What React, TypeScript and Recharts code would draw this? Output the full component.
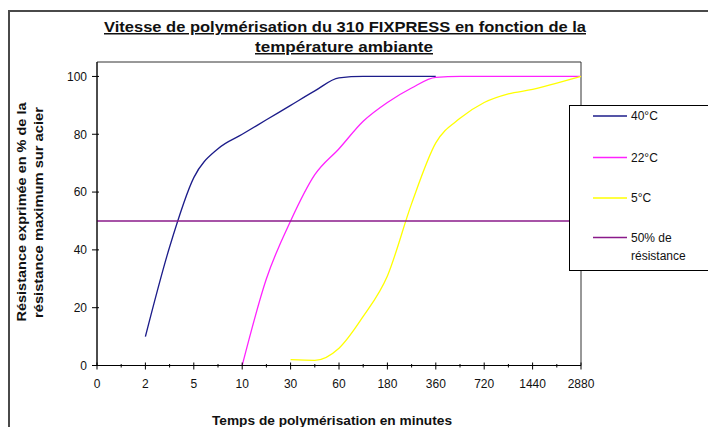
import React from 'react';
import { LineChart, Line, XAxis, YAxis, ReferenceArea } from 'recharts';

// Category labels (time in minutes), evenly spaced on the axis
const xLabels = ['0', '2', '5', '10', '30', '60', '180', '360', '720', '1440', '2880'];
const xTicks = [0, 0.5, 1, 1.5, 2, 2.5, 3, 3.5, 4, 4.5, 5, 5.5, 6, 6.5, 7, 7.5, 8, 8.5, 9, 9.5, 10];
const yTicks = [0, 20, 40, 60, 80, 100];

// 40°C
const pos40 = [1, 1.5, 2, 2.5, 3, 3.5, 4, 4.5, 5, 5.5, 6, 6.5, 7];
const val40 = [10, 41, 65, 75, 80, 85, 90, 95, 99.5, 100, 100, 100, 100];
// 22°C
const pos22 = [3, 3.5, 4, 4.5, 5, 5.5, 6, 6.5, 7, 7.5, 8, 8.5, 9, 9.5, 10];
const val22 = [0, 30, 50, 66, 75, 84.5, 91, 96, 99.7, 100, 100, 100, 100, 100, 100];
// 5°C
const pos5 = [4, 4.5, 5, 5.5, 6, 6.5, 7, 7.5, 8, 8.5, 9, 9.5, 10];
const val5 = [2, 1.8, 6, 17, 31, 56, 77, 85.5, 91, 94, 95.5, 97.7, 100];
// 50% de résistance
const pos50 = [0, 10];
const val50 = [50, 50];

const seriesNames = ['40°C', '22°C', '5°C', '50% de résistance'];
const seriesColors = ['#1c1c8a', '#ff22ff', '#ffff00', '#8a1a8a'];

const toRows = (p: number[], v: number[]) => p.map((x, i) => ({ x, y: v[i] }));
const d40 = toRows(pos40, val40);
const d22 = toRows(pos22, val22);
const d5 = toRows(pos5, val5);
const d50 = toRows(pos50, val50);

const FONT = '"Liberation Sans", Arial, sans-serif';

const XTick = (props: any) => {
  const { x, y, payload } = props;
  const v = payload.value;
  const major = Number.isInteger(v);
  return (
    <g>
      <line x1={x} x2={x} y1={major ? y - 3 : y - 1.5} y2={major ? y + 4 : y + 2} stroke="#000" strokeWidth={1} />
      {major && (
        <text x={x} y={y + 22.5} textAnchor="middle" fontSize={12} fill="#111" fontFamily={FONT}>
          {xLabels[v]}
        </text>
      )}
    </g>
  );
};

const YTick = (props: any) => {
  const { x, y, payload } = props;
  return (
    <g>
      <line x1={x - 5} x2={x + 2} y1={y} y2={y} stroke="#000" strokeWidth={1} />
      <text x={x - 10} y={y + 4.3} textAnchor="end" fontSize={12} fill="#111" fontFamily={FONT}>
        {payload.value}
      </text>
    </g>
  );
};

export default function App() {
  const legendRows = [
    { name: seriesNames[0], color: seriesColors[0], top: 116 },
    { name: seriesNames[1], color: seriesColors[1], top: 157.5 },
    { name: seriesNames[2], color: seriesColors[2], top: 198 },
  ];
  return (
    <div
      style={{
        position: 'absolute',
        left: 0,
        top: 0,
        width: 708,
        height: 427,
        overflow: 'hidden',
        background: '#fff',
        fontFamily: FONT,
      }}
    >
      <div
        style={{
          position: 'absolute',
          left: 8,
          top: 10,
          width: 760,
          height: 460,
          border: '2px solid #4a4a4a',
          boxSizing: 'border-box',
        }}
      />
      <LineChart
        width={708}
        height={427}
        margin={{ top: 62, right: 127, bottom: 0, left: 0 }}
        style={{ position: 'absolute', left: 0, top: 0 }}
      >
        <XAxis
          dataKey="x"
          type="number"
          domain={[0, 10]}
          ticks={xTicks}
          interval={0}
          tickLine={false}
          tickSize={0}
          tickMargin={0}
          height={61.5}
          axisLine={{ stroke: '#000', strokeWidth: 1 }}
          tick={<XTick />}
          allowDuplicatedCategory={false}
        />
        <YAxis
          type="number"
          domain={[0, 105]}
          ticks={yTicks}
          interval={0}
          width={97}
          tickLine={false}
          tickSize={0}
          tickMargin={0}
          axisLine={{ stroke: '#000', strokeWidth: 1 }}
          tick={<YTick />}
        />
        <ReferenceArea x1={0} x2={10} y1={0} y2={105} fill="none" stroke="#333" strokeWidth={1} />
        <Line data={d40} dataKey="y" name={seriesNames[0]} type="monotone" stroke={seriesColors[0]} strokeWidth={1.3} dot={false} isAnimationActive={false} />
        <Line data={d22} dataKey="y" name={seriesNames[1]} type="monotone" stroke={seriesColors[1]} strokeWidth={1.3} dot={false} isAnimationActive={false} />
        <Line data={d5} dataKey="y" name={seriesNames[2]} type="monotone" stroke={seriesColors[2]} strokeWidth={1.3} dot={false} isAnimationActive={false} />
        <Line data={d50} dataKey="y" name={seriesNames[3]} type="linear" stroke={seriesColors[3]} strokeWidth={1.3} dot={false} isAnimationActive={false} />
      </LineChart>

      {/* Legend */}
      <div
        style={{
          position: 'absolute',
          left: 569,
          top: 105,
          width: 170,
          height: 166,
          background: '#fff',
          border: '1px solid #000',
          boxSizing: 'border-box',
        }}
      />
      <svg width={708} height={427} style={{ position: 'absolute', left: 0, top: 0, pointerEvents: 'none' }}>
        {legendRows.map((r) => (
          <g key={r.name}>
            <line x1={593} x2={627} y1={r.top} y2={r.top} stroke={r.color} strokeWidth={1.3} />
            <text x={631} y={r.top + 4.3} fontSize={12} fill="#111" fontFamily={FONT}>
              {r.name}
            </text>
          </g>
        ))}
        <line x1={593} x2={627} y1={237.5} y2={237.5} stroke={seriesColors[3]} strokeWidth={1.3} />
        <text x={631} y={241.8} fontSize={12} fill="#111" fontFamily={FONT}>50% de</text>
        <text x={631} y={259.5} fontSize={12} fill="#111" fontFamily={FONT}>résistance</text>

        {/* Title */}
        <text x={345} y={32} textAnchor="middle" fontSize={15} fontWeight="bold" fill="#111" fontFamily={FONT}
          textLength={482} lengthAdjust="spacingAndGlyphs" textDecoration="underline">
          Vitesse de polymérisation du 310 FIXPRESS en fonction de la
        </text>
        <text x={344} y={52} textAnchor="middle" fontSize={15} fontWeight="bold" fill="#111" fontFamily={FONT}
          textLength={178} lengthAdjust="spacingAndGlyphs" textDecoration="underline">
          température ambiante
        </text>

        {/* Y axis title */}
        <text x={26} y={212} transform="rotate(-90 26 212)" textAnchor="middle" fontSize={12.5} fontWeight="bold" fill="#111"
          fontFamily={FONT} textLength={219} lengthAdjust="spacingAndGlyphs">
          Résistance exprimée en % de la
        </text>
        <text x={43} y={212.5} transform="rotate(-90 43 212.5)" textAnchor="middle" fontSize={12.5} fontWeight="bold" fill="#111"
          fontFamily={FONT} textLength={211} lengthAdjust="spacingAndGlyphs">
          résistance maximum sur acier
        </text>

        {/* X axis title */}
        <text x={332} y={425} textAnchor="middle" fontSize={13} fontWeight="bold" fill="#111" fontFamily={FONT}
          textLength={240} lengthAdjust="spacingAndGlyphs">
          Temps de polymérisation en minutes
        </text>
      </svg>
    </div>
  );
}
